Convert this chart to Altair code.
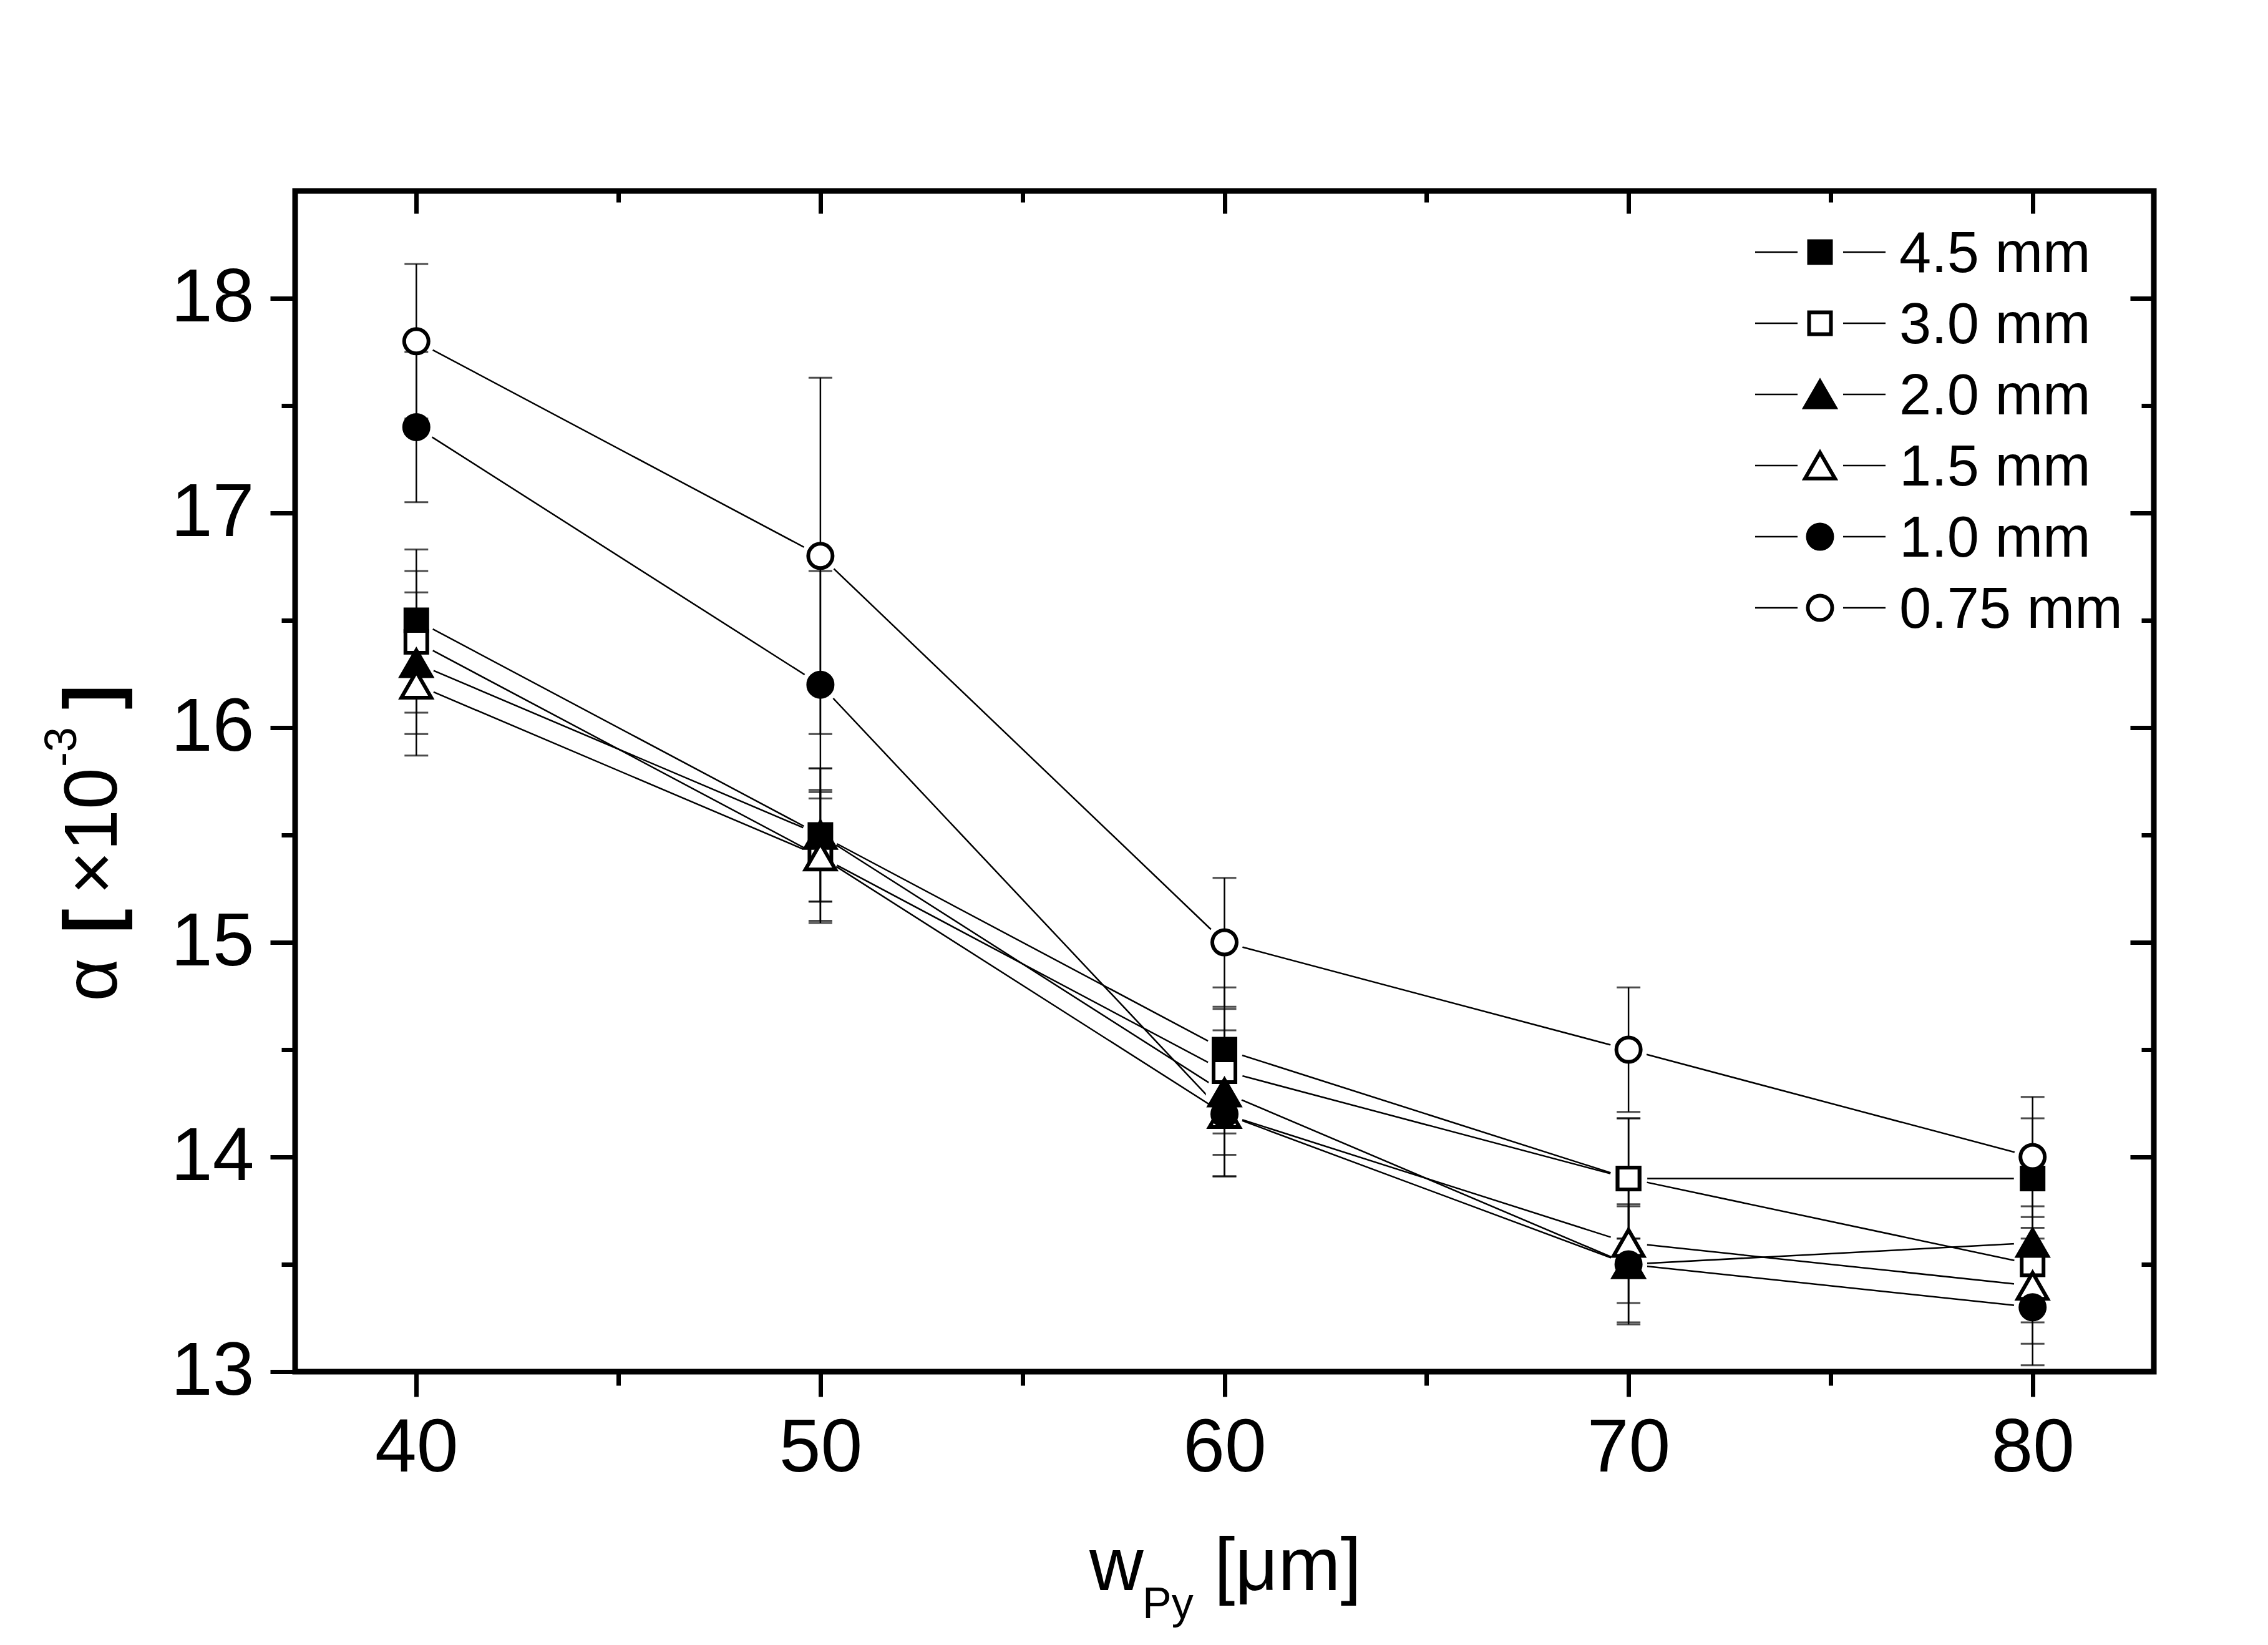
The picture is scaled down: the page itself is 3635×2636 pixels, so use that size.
import altair as alt
import pandas as pd

# ---------------- data ----------------
widths = [40, 50, 60, 70, 80]
series = ["4.5 mm", "3.0 mm", "2.0 mm", "1.5 mm", "1.0 mm", "0.75 mm"]

alpha_45 = [16.5, 15.5, 14.5, 13.9, 13.9]
alpha_30 = [16.4, 15.4, 14.4, 13.9, 13.5]
alpha_20 = [16.3, 15.5, 14.3, 13.5, 13.6]
alpha_15 = [16.2, 15.4, 14.2, 13.6, 13.4]
alpha_10 = [17.4, 16.2, 14.2, 13.5, 13.3]
alpha_075 = [17.8, 16.8, 15.0, 14.5, 14.0]

err_45 = [0.33, 0.31, 0.29, 0.28, 0.28]
err_30 = [0.33, 0.31, 0.29, 0.28, 0.27]
err_20 = [0.33, 0.31, 0.29, 0.28, 0.28]
err_15 = [0.33, 0.30, 0.29, 0.28, 0.27]
err_10 = [0.35, 0.53, 0.29, 0.27, 0.27]
err_075 = [0.36, 0.83, 0.30, 0.29, 0.28]

x_major = [40, 50, 60, 70, 80]
x_minor = [45, 55, 65, 75]
y_major = [13, 14, 15, 16, 17, 18]
y_minor = [13.5, 14.5, 15.5, 16.5, 17.5]

alphas = [alpha_45, alpha_30, alpha_20, alpha_15, alpha_10, alpha_075]
errs = [err_45, err_30, err_20, err_15, err_10, err_075]

rows = []
for s, a_list, e_list in zip(series, alphas, errs):
    for w, a, e in zip(widths, a_list, e_list):
        rows.append({"series": s, "w": w, "alpha": a, "err": e})
df = pd.DataFrame(rows)

# ---------------- styles ----------------
FONT = "Liberation Sans"
W, H = 2979, 1892
shape_range = ["square", "square", "triangle-up", "triangle-up", "circle", "circle"]
fill_range = ["black", "white", "black", "white", "black", "white"]
size_range = [1225, 1225, 2304, 2304, 1521, 1521]

xscale = alt.Scale(domain=[37, 83], nice=False, zero=False)
yscale = alt.Scale(domain=[13, 18.5], nice=False, zero=False)

base = alt.Chart(df)


def axis(orient, values, tick, labels=False, offset=0):
    kw = dict(
        orient=orient, values=values, title="", tickSize=tick, tickWidth=7,
        tickColor="black", domain=False, grid=False, labels=labels, offset=offset,
    )
    if labels:
        kw.update(labelFont=FONT, labelFontSize=120, labelColor="black",
                  labelPadding=24 if orient == "bottom" else 26)
    return alt.Axis(**kw)


# data lines
lines = base.mark_line(color="black", strokeWidth=2.5).encode(
    x=alt.X("w:Q", scale=xscale, axis=axis("bottom", x_major, 40, labels=True)),
    y=alt.Y("alpha:Q", scale=yscale, axis=axis("left", y_major, 40, labels=True)),
    detail="series:N",
)

# white halos that leave a gap between the lines and the symbols
halos = base.mark_point(shape="circle", filled=True, fill="white", opacity=1,
                        size=3600, strokeWidth=0).encode(
    x=alt.X("w:Q", scale=xscale, axis=None),
    y=alt.Y("alpha:Q", scale=yscale, axis=None),
)

eb = base.transform_calculate(
    lo="datum.alpha - datum.err", hi="datum.alpha + datum.err"
)
err_rule = eb.mark_rule(color="black", strokeWidth=2.5).encode(
    x=alt.X("w:Q", scale=xscale, axis=None),
    y=alt.Y("lo:Q", scale=yscale, axis=None),
    y2="hi:Q",
)
cap_lo = eb.mark_tick(color="black", orient="horizontal", size=38, thickness=3).encode(
    x=alt.X("w:Q", scale=xscale, axis=None),
    y=alt.Y("lo:Q", scale=yscale, axis=None),
)
cap_hi = eb.mark_tick(color="black", orient="horizontal", size=38, thickness=3).encode(
    x=alt.X("w:Q", scale=xscale, axis=None),
    y=alt.Y("hi:Q", scale=yscale, axis=None),
)

markers = base.mark_point(filled=True, stroke="black", strokeWidth=6, opacity=1).encode(
    x=alt.X("w:Q", scale=xscale, axis=None),
    y=alt.Y("alpha:Q", scale=yscale, axis=None),
    shape=alt.Shape("series:N", scale=alt.Scale(domain=series, range=shape_range), legend=None),
    fill=alt.Fill("series:N", scale=alt.Scale(domain=series, range=fill_range), legend=None),
    size=alt.Size("series:N", scale=alt.Scale(type="ordinal", domain=series, range=size_range),
                  legend=None),
)

# extra axes: minor ticks outside, mirrored ticks inside on top / right
ax1 = base.mark_point(opacity=0).encode(
    x=alt.X("w:Q", scale=xscale, axis=axis("bottom", x_minor, 22)),
    y=alt.Y("alpha:Q", scale=yscale, axis=axis("left", y_minor, 22)),
)
ax2 = base.mark_point(opacity=0).encode(
    x=alt.X("w:Q", scale=xscale, axis=axis("top", x_major, 36, offset=-36)),
    y=alt.Y("alpha:Q", scale=yscale, axis=axis("right", y_major, 38, offset=-38)),
)
ax3 = base.mark_point(opacity=0).encode(
    x=alt.X("w:Q", scale=xscale, axis=axis("top", x_minor, 18, offset=-18)),
    y=alt.Y("alpha:Q", scale=yscale, axis=axis("right", y_minor, 20, offset=-20)),
)

# ---------------- legend (layout in pixels) ----------------
legend_layers = []
for i, s in enumerate(series):
    yc = 98 + 114 * i
    ldf = pd.DataFrame({"series": [s]})
    lb = alt.Chart(ldf)
    legend_layers.append(lb.mark_rule(color="black", strokeWidth=2.5).encode(
        x=alt.value(2340), x2=alt.value(2408), y=alt.value(yc)))
    legend_layers.append(lb.mark_rule(color="black", strokeWidth=2.5).encode(
        x=alt.value(2481), x2=alt.value(2549), y=alt.value(yc)))
    legend_layers.append(lb.mark_point(
        shape=shape_range[i], filled=True, fill=fill_range[i], stroke="black",
        strokeWidth=6, size=size_range[i], opacity=1).encode(
        x=alt.value(2444), y=alt.value(yc)))
    legend_layers.append(lb.mark_text(
        align="left", baseline="alphabetic", font=FONT, fontSize=92, color="black").encode(
        x=alt.value(2571), y=alt.value(yc + 32), text="series:N"))


# ---------------- axis titles (with sub / superscripts) ----------------
def txt(label, x, y, size, angle=0, align="left", weight="normal"):
    kw = dict(align=align, baseline="alphabetic", font=FONT, fontSize=size,
              color="black", fontWeight=weight)
    if angle:
        kw["angle"] = angle
    return alt.Chart(pd.DataFrame({"t": [label]})).mark_text(**kw).encode(
        x=alt.value(x), y=alt.value(y), text="t:N")


titles = [
    txt("w", 1273, 2242, 120),
    txt("Py", 1358, 2287, 70),
    txt("[μm]", 1473, 2242, 120),
    txt("α", -286, 1264, 120, angle=270, align="center"),
    txt("[", -286, 1170, 120, angle=270, align="center", weight="bold"),
    txt("×10", -286, 1026, 120, angle=270, align="center"),
    txt("-3", -351, 891, 72, angle=270, align="center"),
    txt("]", -286, 811, 120, angle=270, align="center", weight="bold"),
]

chart = alt.layer(
    lines, halos, err_rule, cap_lo, cap_hi, markers, ax1, ax2, ax3,
    *legend_layers, *titles,
).resolve_scale(
    x="shared", y="shared"
).resolve_axis(
    x="independent", y="independent"
).properties(
    width=W, height=H,
    autosize=alt.AutoSizeParams(type="none"),
    padding={"left": 465, "top": 298, "right": 150, "bottom": 430},
    background="white",
).configure_view(
    stroke="black", strokeWidth=9
)

chart.save("out.html", embed_options={"renderer": "svg", "actions": False})
